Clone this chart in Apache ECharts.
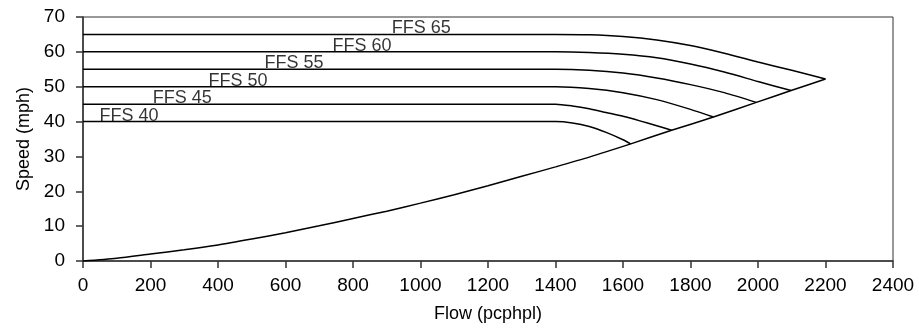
<!DOCTYPE html>
<html>
<head>
<meta charset="utf-8">
<script src="https://cdn.jsdelivr.net/npm/echarts@6/dist/echarts.min.js"></script>
<style>
  html, body { margin: 0; padding: 0; background: #fff; }
  #chart { width: 919px; height: 328px; }
</style>
</head>
<body>
<div id="chart"></div>
<script>
// Speed-flow curves by free-flow speed (FFS), pairs of [flow pcphpl, speed mph]
const ffs40 = [[0, 40], [1400, 40], [1450, 39.6], [1500, 38.6], [1550, 36.9], [1600, 34.8], [1623, 33.6]];
const ffs45 = [[0, 45], [1400, 45], [1450, 44.5], [1500, 43.7], [1550, 42.6], [1600, 41.5], [1650, 40.2], [1700, 38.8], [1744, 37.5]];
const ffs50 = [[0, 50], [1400, 50], [1500, 49.5], [1600, 48.3], [1700, 46.3], [1800, 43.5], [1868, 41.3]];
const ffs55 = [[0, 55], [1400, 55], [1500, 54.7], [1600, 53.9], [1700, 52.5], [1800, 50.6], [1900, 48.3], [1995, 45.5]];
const ffs60 = [[0, 60], [1400, 60], [1500, 59.8], [1600, 59.3], [1700, 58.3], [1800, 56.5], [1900, 54.2], [2000, 51.5], [2098, 48.9]];
const ffs65 = [[0, 65], [1400, 65], [1500, 64.9], [1600, 64.4], [1700, 63.4], [1800, 61.8], [1900, 59.6], [2000, 57.1], [2100, 54.7], [2200, 52.2]];

// Lower branch through the end point of every curve
const lowerBranch = [[0, 0], [100, 0.8], [200, 2.0], [300, 3.2], [400, 4.6], [500, 6.3], [600, 8.1], [700, 10.1],
  [800, 12.2], [900, 14.3], [1000, 16.6], [1100, 19.0], [1200, 21.6], [1300, 24.3], [1400, 27.0], [1500, 29.8],
  [1623, 33.6], [1744, 37.5], [1868, 41.3], [1995, 45.5], [2098, 48.9], [2200, 52.2]];

// Curve labels: free-flow speed and the flow where each label sits
const ffsValues = [40, 45, 50, 55, 60, 65];
const labelFlows = [136, 294, 459, 625, 827, 1002];

const FONT = 'Liberation Sans, Arial, Helvetica, sans-serif';
const INK = '#000';

const curves = [ffs40, ffs45, ffs50, ffs55, ffs60, ffs65, lowerBranch];

const lineSeries = curves.map(function (d) {
  return {
    type: 'line',
    data: d,
    symbol: 'none',
    smooth: 0.25,
    lineStyle: { color: INK, width: 1.5 },
    silent: true,
    z: 3
  };
});

const labelSeries = {
  type: 'scatter',
  symbolSize: 0,
  silent: true,
  data: ffsValues.map(function (v, i) { return [labelFlows[i], v]; }),
  label: {
    show: true,
    position: 'top',
    distance: -3,
    color: INK,
    fontFamily: FONT,
    fontSize: 18,
    formatter: function (p) { return 'FFS ' + p.value[1]; }
  },
  z: 4
};

const plainNumber = function (v) { return String(v); };

const chart = echarts.init(document.getElementById('chart'), null, { renderer: 'canvas' });
chart.setOption({
  animation: false,
  backgroundColor: '#fff',
  grid: {
    left: 83, right: 26, top: 17, bottom: 67,
    containLabel: false,
    outerBoundsMode: 'none',
    show: true,
    borderColor: '#333',
    borderWidth: 1
  },
  xAxis: {
    type: 'value',
    min: 0, max: 2400, interval: 200,
    name: 'Flow (pcphpl)',
    nameLocation: 'middle',
    nameGap: 44,
    nameMoveOverlap: false,
    nameTextStyle: { color: INK, fontFamily: FONT, fontSize: 18 },
    axisLine: { show: true, onZero: false, lineStyle: { color: '#333', width: 1.5 } },
    axisTick: { show: true, inside: false, length: 7, lineStyle: { color: '#333', width: 1.5 } },
    axisLabel: { color: INK, fontFamily: FONT, fontSize: 19, margin: 15, formatter: plainNumber },
    splitLine: { show: false }
  },
  yAxis: {
    type: 'value',
    min: 0, max: 70, interval: 10,
    name: 'Speed (mph)',
    nameLocation: 'middle',
    nameRotate: 90,
    nameGap: 50,
    nameMoveOverlap: false,
    nameTextStyle: { color: INK, fontFamily: FONT, fontSize: 18 },
    axisLine: { show: true, onZero: false, lineStyle: { color: '#333', width: 1.5 } },
    axisTick: { show: true, inside: false, length: 7, lineStyle: { color: '#333', width: 1.5 } },
    axisLabel: { color: INK, fontFamily: FONT, fontSize: 19, margin: 18, formatter: plainNumber },
    splitLine: { show: false }
  },
  series: lineSeries.concat([labelSeries])
});
</script>
</body>
</html>
